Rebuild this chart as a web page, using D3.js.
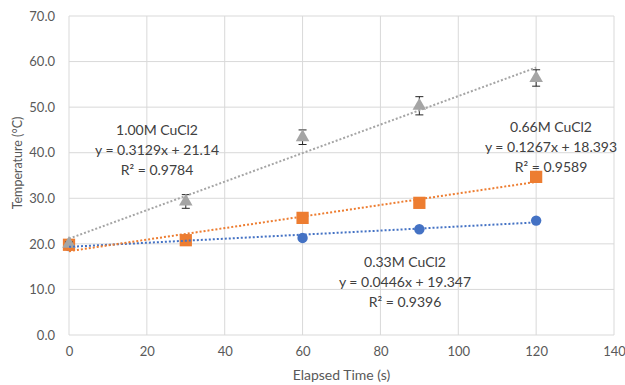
<!DOCTYPE html>
<html><head><meta charset="utf-8">
<script src="https://cdn.jsdelivr.net/npm/d3@7/dist/d3.min.js"></script>
<style>body{margin:0;background:#fff}svg{display:block}text{font-family:Lato,"Open Sans",sans-serif}</style>
</head><body><svg id="c" width="625" height="385"></svg>
<script>
const times = [0, 30, 60, 90, 120];
const xTicks = [0, 20, 40, 60, 80, 100, 120, 140];
const yTicks = [0, 10, 20, 30, 40, 50, 60, 70];
const temp033 = [19.5, 21.0, 21.3, 23.2, 25.1];
const temp066 = [19.8, 20.8, 25.7, 29.0, 34.7];
const temp100 = [20.0, 29.3, 43.4, 50.3, 56.4];
const err100 = [0.4, 1.5, 1.6, 2.0, 1.8];
const fit033 = [0.0446, 19.347];
const fit066 = [0.1267, 18.393];
const fit100 = [0.3129, 21.14];
const labels033 = ["0.33M CuCl2", "y = 0.0446x + 19.347", "R² = 0.9396"];
const labels066 = ["0.66M CuCl2", "y = 0.1267x + 18.393", "R² = 0.9589"];
const labels100 = ["1.00M CuCl2", "y = 0.3129x + 21.14", "R² = 0.9784"];
const xTitle = "Elapsed Time (s)";
const yTitle = "Temperature (°C)";

const svg = d3.select("#c");
const x = d3.scaleLinear().domain([0, 140]).range([69, 614]);
const y = d3.scaleLinear().domain([0, 70]).range([335, 16]);
const txt = "#595959";

// grid
svg.append("g").selectAll("line.v").data(xTicks).join("line")
  .attr("x1", d => x(d)).attr("x2", d => x(d)).attr("y1", y(0)).attr("y2", y(70))
  .attr("stroke", "#d9d9d9").attr("stroke-width", 1);
svg.append("g").selectAll("line.h").data(yTicks).join("line")
  .attr("x1", x(0)).attr("x2", x(140)).attr("y1", d => y(d)).attr("y2", d => y(d))
  .attr("stroke", "#d9d9d9").attr("stroke-width", 1);

// axes
const xa = svg.append("g").attr("transform", `translate(0,${y(0)})`)
  .call(d3.axisBottom(x).tickValues(xTicks).tickSize(0).tickPadding(12).tickFormat(d3.format("d")));
const ya = svg.append("g").attr("transform", `translate(${x(0)},0)`)
  .call(d3.axisLeft(y).tickValues(yTicks).tickSize(0).tickPadding(14).tickFormat(d3.format(".1f")));
[xa, ya].forEach(a => {
  a.select(".domain").remove();
  a.selectAll("text").attr("fill", txt).attr("font-size", 13).style("font-family", "Lato, sans-serif");
});

svg.append("text").attr("x", x(70)).attr("y", 380).attr("text-anchor", "middle")
  .attr("fill", txt).attr("font-size", 14).text(xTitle);
svg.append("text").attr("transform", `translate(22,163) rotate(-90)`).attr("text-anchor", "middle")
  .attr("fill", txt).attr("font-size", 12.5).text(yTitle);

const series = [
  {vals: temp033, fit: fit033, color: "#4472C4", shape: "circle"},
  {vals: temp066, fit: fit066, color: "#ED7D31", shape: "square"},
  {vals: temp100, fit: fit100, color: "#A5A5A5", shape: "triangle", err: err100}
];

const sym = {circle: d3.symbol(d3.symbolCircle, 85), square: d3.symbol(d3.symbolSquare, 150), triangle: d3.symbol(d3.symbolTriangle, 80)};

series.forEach(s => {
  const pts = times.map((t, i) => ({t, v: s.vals[i], e: s.err ? s.err[i] : 0}));
  const g = svg.append("g");
  if (s.err) {
    const eg = g.selectAll("g.err").data(pts).join("g").attr("stroke", "#262626").attr("stroke-width", 1);
    eg.append("line").attr("x1", d => x(d.t)).attr("x2", d => x(d.t)).attr("y1", d => y(d.v + d.e)).attr("y2", d => y(d.v - d.e));
    eg.append("line").attr("x1", d => x(d.t) - 4).attr("x2", d => x(d.t) + 4).attr("y1", d => y(d.v + d.e)).attr("y2", d => y(d.v + d.e));
    eg.append("line").attr("x1", d => x(d.t) - 4).attr("x2", d => x(d.t) + 4).attr("y1", d => y(d.v - d.e)).attr("y2", d => y(d.v - d.e));
  }
  g.selectAll("path").data(pts).join("path")
    .attr("d", sym[s.shape]).attr("transform", d => `translate(${x(d.t)},${y(d.v)})`)
    .attr("fill", s.color);
});

series.forEach(s => {
  const [m, b] = s.fit;
  svg.append("line").attr("x1", x(0)).attr("y1", y(b)).attr("x2", x(120)).attr("y2", y(m * 120 + b))
    .attr("stroke", s.color).attr("stroke-width", 2).attr("stroke-dasharray", "2,2");
});

function label(lines, cx, cy) {
  const t = svg.append("text").attr("text-anchor", "middle").attr("fill", "#404040").attr("font-size", 14);
  lines.forEach((l, i) => t.append("tspan").attr("x", cx).attr("y", cy + i * 20).text(l));
}
label(labels100, 157, 135);
label(labels066, 551, 132);
label(labels033, 405, 267);
</script></body></html>
